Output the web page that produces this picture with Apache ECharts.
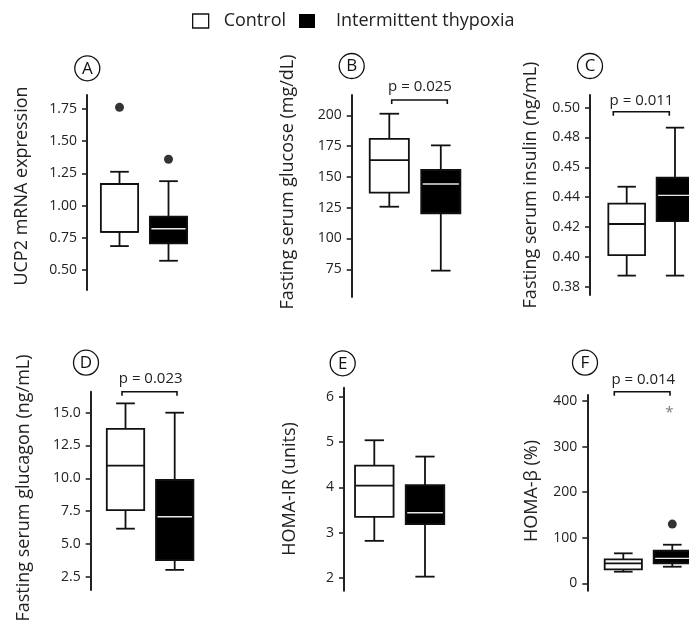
<!DOCTYPE html>
<html><head><meta charset="utf-8">
<script src="https://cdn.jsdelivr.net/npm/echarts@6/dist/echarts.min.js"></script>
<style>html,body{margin:0;padding:0;background:#fff}#c{width:689px;height:623px}</style>
</head><body><div id="c"></div>
<script>
// ---------- DATA ----------
const groups = ['Control', 'Intermittent thypoxia'];
// box summaries: [lower whisker, Q1, median, Q3, upper whisker]
const ucp2Control   = [0.686, 0.797, 0.797, 1.168, 1.263];
const ucp2Hypoxia   = [0.572, 0.707, 0.821, 0.914, 1.19];
const ucp2Outliers  = [[0, 1.763], [1, 1.36]];

const glucoseControl = [125.8, 137.2, 163.7, 180.8, 201.3];
const glucoseHypoxia = [73.9, 120.5, 144.2, 155.6, 175.6];

const insulinControl = [0.3874, 0.4012, 0.422, 0.4356, 0.447];
const insulinHypoxia = [0.3874, 0.424, 0.4412, 0.453, 0.4866];

const glucagonControl = [6.16, 7.58, 10.96, 13.76, 15.71];
const glucagonHypoxia = [3.02, 3.77, 7.07, 9.87, 15.0];

const homaIrControl = [2.82, 3.35, 4.04, 4.48, 5.04];
const homaIrHypoxia = [2.03, 3.19, 3.44, 4.05, 4.68];

const homaBControl = [25.5, 30.7, 43.9, 52.7, 65.8];
const homaBHypoxia = [36.4, 43.9, 54.8, 71.5, 84.7];
const homaBOutliers = [[1, 130]];
const homaBExtremes = [[0.94, 380]];

// tick values and labels
const ucp2Ticks = [0.5, 0.75, 1.0, 1.25, 1.5, 1.75];
const glucoseTicks = [75, 100, 125, 150, 175, 200];
const insulinTicks = [0.38, 0.40, 0.42, 0.44, 0.46, 0.48, 0.50];
const insulinTickLabels = ['0.38', '0.40', '0.42', '0.44', '0.45', '0.48', '0.50'];
const glucagonTicks = [2.5, 5.0, 7.5, 10.0, 12.5, 15.0];
const homaIrTicks = [2, 3, 4, 5, 6];
const homaBTicks = [0, 100, 200, 300, 400];

const panelLetters = ['A', 'B', 'C', 'D', 'E', 'F'];
const axisTitles = ['UCP2 mRNA expression', 'Fasting serum glucose (mg/dL)', 'Fasting serum insulin (ng/mL)',
  'Fasting serum glucagon (ng/mL)', 'HOMA-IR (units)', 'HOMA-β (%)'];
const pValues = [null, 'p = 0.025', 'p = 0.011', 'p = 0.023', null, 'p = 0.014'];

// ---------- LAYOUT ----------
const FONT = 'Open Sans';
const TXT = '#222';
const panels = [
  {axisX: 87,    top: 95,    bottom: 290,   offset: 32.5, spacing: 49,   ymin: 0.345, ymax: 1.859, ticks: ucp2Ticks,
   fmt: v => v.toFixed(2), ctrl: ucp2Control, hyp: ucp2Hypoxia, out: ucp2Outliers},
  {axisX: 351.7, top: 95,    bottom: 297,   offset: 37.6, spacing: 51.5, ymin: 52.5, ymax: 216.5, ticks: glucoseTicks,
   fmt: v => String(Math.round(v)), ctrl: glucoseControl, hyp: glucoseHypoxia},
  {axisX: 590,   top: 95,    bottom: 295,   offset: 36.7, spacing: 48.3, ymin: 0.3744, ymax: 0.5085, ticks: insulinTicks,
   fmt: v => insulinTickLabels[insulinTicks.findIndex(t => Math.abs(t - v) < 1e-6)] || '', ctrl: insulinControl, hyp: insulinHypoxia},
  {axisX: 90.7,  top: 391.7, bottom: 590,   offset: 34.8, spacing: 49.2, ymin: 1.486, ymax: 16.6, ticks: glucagonTicks,
   fmt: v => v.toFixed(1), ctrl: glucagonControl, hyp: glucagonHypoxia},
  {axisX: 344,   top: 387.7, bottom: 590.7, offset: 30.3, spacing: 50.7, ymin: 1.72, ymax: 6.2, ticks: homaIrTicks,
   fmt: v => String(Math.round(v)), ctrl: homaIrControl, hyp: homaIrHypoxia},
  {axisX: 587.3, top: 395,   bottom: 590.7, offset: 36,   spacing: 49,   ymin: -16.2, ymax: 413.2, ticks: homaBTicks,
   fmt: v => String(Math.round(v)), ctrl: homaBControl, hyp: homaBHypoxia, out: homaBOutliers, ext: homaBExtremes}
];
const circles = [[87.3, 68.3], [351.7, 66], [590, 66], [86, 362.7], [342.7, 363.3], [585, 362.7]];
const titlePos = [[22, 186], [288, 182], [531, 185], [24, 488], [290, 489], [532, 491]];
const brackets = [null, {x1: 391.7, x2: 447.3, y: 100, tx: 420, ty: 87},
  {x1: 613.3, x2: 669.3, y: 111.7, tx: 641.5, ty: 101},
  {x1: 122, x2: 177, y: 391.7, tx: 150.7, ty: 379},
  null,
  {x1: 614.3, x2: 670, y: 391.7, tx: 643.3, ty: 380}];

const GRID_W = 95;
const STROKE = '#111';

function boxRenderer(filled) {
  return function (params, api) {
    const x = api.value(0);
    const lo = api.coord([x, api.value(1)]);
    const q1 = api.coord([x, api.value(2)]);
    const md = api.coord([x, api.value(3)]);
    const q3 = api.coord([x, api.value(4)]);
    const hi = api.coord([x, api.value(5)]);
    const bw = api.size([1, 0])[0] * 0.76;
    const cw = bw / 2;
    const cx = lo[0];
    const lw = 1.8;
    const ch = [
      {type: 'line', shape: {x1: cx, y1: q3[1], x2: cx, y2: hi[1]}, style: {stroke: STROKE, lineWidth: lw}},
      {type: 'line', shape: {x1: cx, y1: q1[1], x2: cx, y2: lo[1]}, style: {stroke: STROKE, lineWidth: lw}},
      {type: 'line', shape: {x1: cx - cw / 2, y1: hi[1], x2: cx + cw / 2, y2: hi[1]}, style: {stroke: STROKE, lineWidth: lw}},
      {type: 'line', shape: {x1: cx - cw / 2, y1: lo[1], x2: cx + cw / 2, y2: lo[1]}, style: {stroke: STROKE, lineWidth: lw}},
      {type: 'rect', shape: {x: cx - bw / 2, y: q3[1], width: bw, height: q1[1] - q3[1]},
        style: {fill: filled ? '#000' : '#fff', stroke: STROKE, lineWidth: lw}},
      {type: 'line', shape: {x1: cx - bw / 2 + (filled ? 1.5 : 0), y1: md[1], x2: cx + bw / 2 - (filled ? 1.5 : 0), y2: md[1]},
        style: {stroke: filled ? '#e8e8e8' : STROKE, lineWidth: filled ? 1.4 : lw}}
    ];
    return {type: 'group', children: ch};
  };
}

const grid = [], xAxis = [], yAxis = [], series = [], graphic = [];
panels.forEach((p, i) => {
  grid.push({left: p.axisX, top: p.top, width: GRID_W, height: p.bottom - p.top});
  const xmin = -p.offset / p.spacing;
  xAxis.push({gridIndex: i, type: 'value', min: xmin, max: xmin + GRID_W / p.spacing, show: false});
  yAxis.push({
    gridIndex: i, type: 'value', min: p.ymin, max: p.ymax, position: 'left',
    splitLine: {show: false},
    axisLine: {show: true, onZero: false, lineStyle: {color: '#222', width: 2}},
    axisTick: {show: true, length: 5, customValues: p.ticks, lineStyle: {color: '#222', width: 1.6}},
    axisLabel: {customValues: p.ticks, formatter: p.fmt, margin: 10, color: TXT, fontFamily: FONT, fontSize: 14}
  });
  series.push({type: 'custom', name: groups[0], xAxisIndex: i, yAxisIndex: i, renderItem: boxRenderer(false), clip: false,
    itemStyle: {color: '#fff', borderColor: '#000'}, data: [[0].concat(p.ctrl)], encode: {x: 0, y: [1, 2, 3, 4, 5]}, z: 3});
  series.push({type: 'custom', name: groups[1], xAxisIndex: i, yAxisIndex: i, renderItem: boxRenderer(true), clip: false,
    itemStyle: {color: '#000'}, data: [[1].concat(p.hyp)], encode: {x: 0, y: [1, 2, 3, 4, 5]}, z: 3});
  if (p.out) series.push({type: 'scatter', name: 'outliers' + i, xAxisIndex: i, yAxisIndex: i, symbol: 'circle', symbolSize: 9,
    itemStyle: {color: '#000'}, data: p.out, z: 4, clip: false});
  if (p.ext) series.push({type: 'scatter', name: 'extremes' + i, xAxisIndex: i, yAxisIndex: i, symbolSize: 1,
    itemStyle: {color: 'rgba(0,0,0,0)'}, data: p.ext, z: 4, clip: false,
    label: {show: true, position: 'inside', formatter: '*', color: '#555', fontSize: 15, fontFamily: FONT, offset: [0, 3]}});

  // panel letter circle
  graphic.push({type: 'circle', shape: {cx: circles[i][0], cy: circles[i][1], r: 12.5}, style: {fill: '#fff', stroke: STROKE, lineWidth: 1.3}});
  graphic.push({type: 'text', x: circles[i][0], y: circles[i][1] + 0.5,
    style: {text: panelLetters[i], fill: '#111', font: '17px "' + FONT + '"', align: 'center', verticalAlign: 'middle'}});
  // axis title
  graphic.push({type: 'text', x: titlePos[i][0], y: titlePos[i][1], rotation: Math.PI / 2,
    style: {text: axisTitles[i], fill: TXT, font: '18px "' + FONT + '"', align: 'center', verticalAlign: 'middle'}});
  // significance bracket
  const b = brackets[i];
  if (b) {
    graphic.push({type: 'polyline', shape: {points: [[b.x1, b.y + 4], [b.x1, b.y], [b.x2, b.y], [b.x2, b.y + 4]]},
      style: {stroke: STROKE, lineWidth: 1.6, fill: null}});
    graphic.push({type: 'text', x: b.tx, y: b.ty,
      style: {text: pValues[i], fill: TXT, font: '15px "' + FONT + '"', align: 'center', verticalAlign: 'middle'}});
  }
});

const chart = echarts.init(document.getElementById('c'), null, {renderer: 'canvas'});
chart.setOption({
  animation: false,
  backgroundColor: '#fff',
  legend: {
    left: 192, top: 12, padding: 0, itemWidth: 16, itemHeight: 14, itemGap: 13,
    data: [
      {name: groups[0], icon: 'rect', itemStyle: {color: '#fff', borderColor: '#111', borderWidth: 1.3},
        textStyle: {padding: [0, 0, 0, 10]}},
      {name: groups[1], icon: 'rect', itemStyle: {color: '#000', borderWidth: 0},
        textStyle: {padding: [0, 0, 0, 16]}}
    ],
    textStyle: {fontFamily: FONT, fontSize: 18, color: TXT}
  },
  grid, xAxis, yAxis, series, graphic
});
</script></body></html>
